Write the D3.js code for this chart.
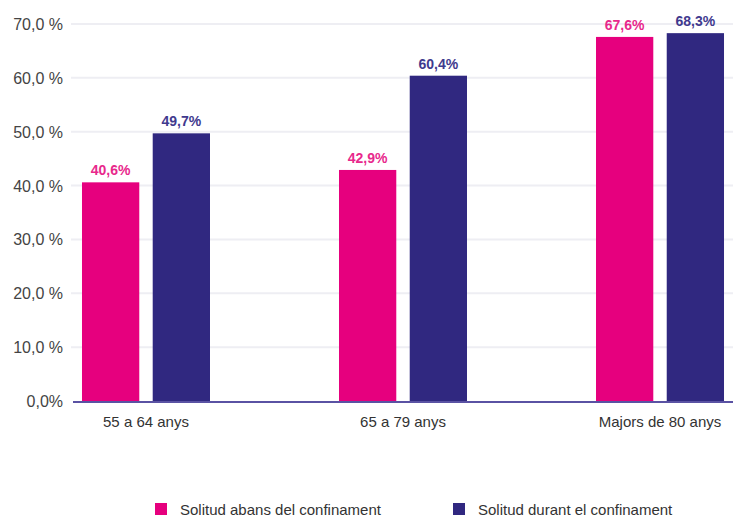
<!DOCTYPE html>
<html><head><meta charset="utf-8">
<script src="https://cdn.jsdelivr.net/npm/d3@7"></script>
<style>body{margin:0;background:#fff}svg{display:block;font-family:"Liberation Sans",Arial,sans-serif}</style>
</head><body><svg id="c" width="733" height="518"></svg>
<script>
const categories = ["55 a 64 anys", "65 a 79 anys", "Majors de 80 anys"];
const seriesNames = ["Solitud abans del confinament", "Solitud durant el confinament"];
const abans = [40.6, 42.9, 67.6];
const durant = [49.7, 60.4, 68.3];
const yTicks = [0, 10, 20, 30, 40, 50, 60, 70];
const yTickLabels = ["0,0%", "10,0 %", "20,0 %", "30,0 %", "40,0 %", "50,0 %", "60,0 %", "70,0 %"];
const colors = ["#e6007e", "#302880"];
const labelColors = ["#e8288c", "#3f3a8e"];

const svg = d3.select("#c");
const y = d3.scaleLinear().domain([0, 70]).range([401, 24]);
const x = d3.scalePoint().domain(categories).range([73, 733]).padding(0.284);
const xs = d3.scaleBand().domain([0, 1]).range([-64, 64]).paddingInner(0.19);

// grid
svg.append("g").selectAll("line").data(yTicks.filter(d => d > 0)).join("line")
  .attr("x1", 71).attr("x2", 733).attr("y1", d => y(d)).attr("y2", d => y(d))
  .attr("stroke", "#eeeef3").attr("stroke-width", 2);

// y labels
svg.append("g").selectAll("text").data(yTicks).join("text")
  .attr("x", 63).attr("y", d => y(d) + 6).attr("text-anchor", "end")
  .attr("font-size", 16).attr("fill", "#444").text((d, i) => yTickLabels[i]);

const series = [abans, durant];
series.forEach((vals, s) => {
  const g = svg.append("g");
  g.selectAll("rect").data(vals).join("rect")
    .attr("x", (d, i) => x(categories[i]) + xs(s))
    .attr("width", xs.bandwidth())
    .attr("y", d => y(d)).attr("height", d => y(0) - y(d))
    .attr("fill", colors[s]);
  g.selectAll("text").data(vals).join("text")
    .attr("x", (d, i) => x(categories[i]) + xs(s) + xs.bandwidth() / 2)
    .attr("y", d => y(d) - 7).attr("text-anchor", "middle")
    .attr("font-size", 14).attr("font-weight", "bold").attr("fill", labelColors[s])
    .text(d => d.toFixed(1).replace(".", ",") + "%");
});

// baseline
svg.append("line").attr("x1", 73).attr("x2", 733).attr("y1", y(0) + 1).attr("y2", y(0) + 1)
  .attr("stroke", "#5a52a3").attr("stroke-width", 2);

// x labels
svg.append("g").selectAll("text").data(categories).join("text")
  .attr("x", d => x(d)).attr("y", 427).attr("text-anchor", "middle")
  .attr("font-size", 15).attr("fill", "#333").text(d => d);

// legend
const legX = [155, 453];
seriesNames.forEach((n, i) => {
  svg.append("rect").attr("x", legX[i]).attr("y", 503).attr("width", 12).attr("height", 12).attr("fill", colors[i]);
  svg.append("text").attr("x", legX[i] + 25).attr("y", 515).attr("font-size", 15).attr("fill", "#333").text(n);
});
</script></body></html>
